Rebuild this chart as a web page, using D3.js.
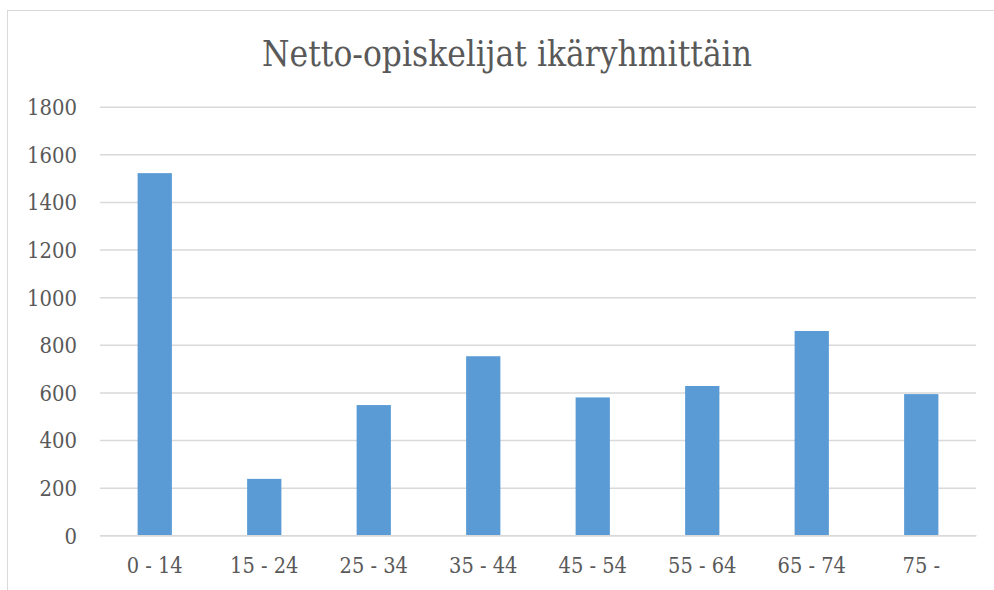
<!DOCTYPE html>
<html><head><meta charset="utf-8">
<script src="https://cdn.jsdelivr.net/npm/d3@7"></script>
<style>html,body{margin:0;padding:0;background:#fff;}svg{display:block;}</style>
</head><body>
<svg id="chart" width="994" height="590"></svg>
<script>
const titleText = "Netto-opiskelijat ikäryhmittäin";
const categories = ["0 - 14","15 - 24","25 - 34","35 - 44","45 - 54","55 - 64","65 - 74","75 -"];
const values = [1521, 237, 547, 752, 579, 627, 858, 593];
const yTicks = [0,200,400,600,800,1000,1200,1400,1600,1800];

(function(){
const svg = d3.select("#chart");
const fontFam = "'DejaVu Serif Condensed', 'DejaVu Serif', serif";
const textCol = "#595959";
const gridCol = "#d9d9d9";
const barCol = "#5b9bd5";

function fit(sel, target, base){
  sel.style("font-size", base+"px");
  const w = sel.node().getComputedTextLength();
  return base * target / w;
}

// chart border
svg.append("rect").attr("x",7.5).attr("y",10.5).attr("width",1000).attr("height",600)
  .attr("fill","#fff").attr("stroke","#d9d9d9").attr("stroke-width",1);

const pLeft = 100, pRight = 976, pTop = 106.7, pBottom = 535.3;
const x = d3.scaleBand().domain(categories).range([pLeft,pRight]).paddingInner(0.687).paddingOuter(0.3435);
const y = d3.scaleLinear().domain([0,1800]).range([pBottom, pTop]);

// gridlines + y labels
const yAxis = d3.axisLeft(y).tickValues(yTicks).tickSize(-(pRight-pLeft)).tickPadding(23).tickFormat(d3.format("d"));
const gy = svg.append("g").attr("transform",`translate(${pLeft},0)`).call(yAxis);
gy.select(".domain").remove();
gy.selectAll(".tick line").attr("stroke",gridCol).attr("stroke-width",1.5);
const yt = gy.selectAll(".tick text").attr("fill",textCol).style("font-family",fontFam).style("font-stretch","condensed");
const yfs = fit(yt.filter(d=>d===1800), 50, 20);
yt.style("font-size", yfs+"px").attr("dy","0.36em");

// bars
svg.append("g").selectAll("rect").data(values).join("rect")
  .attr("x",(d,i)=>x(categories[i]))
  .attr("width",x.bandwidth())
  .attr("y",d=>y(d))
  .attr("height",d=>y(0)-y(d))
  .attr("fill",barCol);

// x axis
const xAxis = d3.axisBottom(x).tickSize(0).tickPadding(0);
const gx = svg.append("g").attr("transform",`translate(0,${pBottom})`).call(xAxis);
gx.select(".domain").attr("stroke",gridCol).attr("stroke-width",1.5);
const xt = gx.selectAll(".tick text").attr("fill",textCol).style("font-family",fontFam).style("font-stretch","condensed");
const xfs = fit(xt.filter(d=>d==="0 - 14"), 56, 20);
xt.style("font-size", xfs+"px").attr("dy",null).attr("y", 573.5 - pBottom);

// title
const tt = svg.append("text").attr("x",507).attr("y",66).attr("text-anchor","middle")
  .attr("fill",textCol).style("font-family",fontFam).style("font-stretch","condensed")
  .text(titleText);
tt.style("font-size", fit(tt, 490, 34)+"px");
})();
</script>
</body></html>
